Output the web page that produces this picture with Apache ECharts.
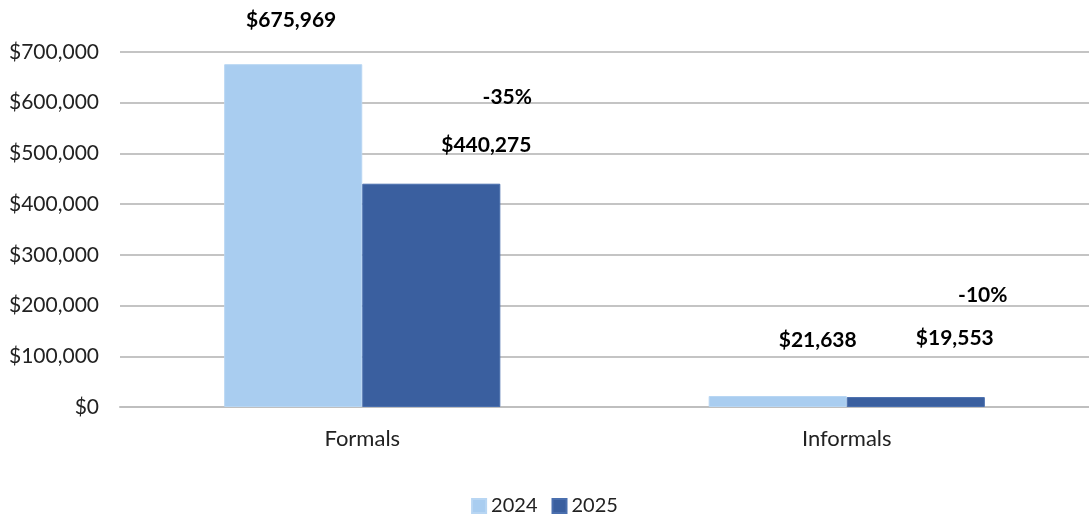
<!DOCTYPE html>
<html>
<head>
<meta charset="utf-8">
<script src="https://cdn.jsdelivr.net/npm/echarts@6/dist/echarts.min.js"></script>
<style>
  html, body { margin: 0; padding: 0; background: #fff; }
  #chart { width: 1089px; height: 521px; }
</style>
</head>
<body>
<div id="chart"></div>
<script>
const categories = ['Formals', 'Informals'];
const values2024 = [675969, 21638];
const values2025 = [440275, 19553];
const changeLabels = ['-35%', '-10%'];
const yTicks = [0, 100000, 200000, 300000, 400000, 500000, 600000, 700000];

const FONT = 'Lato, "Open Sans", sans-serif';

// label offsets (Excel put them by hand, so do we)
const offs2024 = [[-2, -26], [40, -38]];
const offs2025 = [[55, -21], [39, -41]];
const offsPct = [[76, -86], [67, -102]];

const money = v => '$' + Math.round(v).toLocaleString('en-US');

const chart = echarts.init(document.getElementById('chart'));

const labelStyle = {
  show: true,
  position: 'top',
  distance: 5,
  color: '#000',
  fontFamily: FONT,
  fontWeight: 'bold',
  fontSize: 21,
  lineHeight: 25,
  formatter: p => money(p.value)
};

const option = {
  animation: false,
  grid: { left: 120, right: 0, top: 52, bottom: 114 },
  legend: {
    bottom: 0,
    left: 'center',
    itemWidth: 14,
    itemHeight: 14,
    itemGap: 14,
    icon: 'rect',
    textStyle: { fontFamily: FONT, fontSize: 20, color: '#222' },
    data: ['2024', '2025']
  },
  xAxis: {
    type: 'category',
    data: categories,
    axisTick: { show: false },
    axisLine: { lineStyle: { color: '#bfbfbf', width: 2 } },
    axisLabel: { fontFamily: FONT, fontSize: 22, color: '#222', margin: 21 }
  },
  yAxis: {
    type: 'value',
    min: yTicks[0],
    max: yTicks[yTicks.length - 1],
    interval: 100000,
    axisLine: { show: false },
    axisTick: { show: false },
    axisLabel: {
      fontFamily: FONT, fontSize: 21, color: '#222', margin: 21,
      formatter: v => money(v)
    },
    splitLine: { lineStyle: { color: '#c4c4c4', width: 2 } }
  },
  series: [
    {
      name: '2024',
      type: 'bar',
      barGap: '0%',
      barCategoryGap: '43%',
      itemStyle: { color: '#a9cdf0', borderColor: '#b8d6f3', borderWidth: 1 },
      data: values2024.map((v, i) => ({
        value: v,
        label: Object.assign({}, labelStyle, { offset: offs2024[i] })
      }))
    },
    {
      name: '2025',
      type: 'bar',
      itemStyle: { color: '#3a5f9f', borderColor: '#4a6fae', borderWidth: 1 },
      data: values2025.map((v, i) => ({
        value: v,
        label: Object.assign({}, labelStyle, { offset: offs2025[i] })
      })),
      markPoint: {
        symbol: 'circle',
        symbolSize: 0,
        silent: true,
        data: values2025.map((v, i) => ({
          coord: [categories[i], v],
          label: {
            show: true,
            position: 'inside',
            offset: offsPct[i],
            color: '#000',
            fontFamily: FONT,
            fontWeight: 'bold',
            fontSize: 21,
            formatter: changeLabels[i]
          }
        }))
      }
    }
  ]
};

chart.setOption(option);
</script>
</body>
</html>
